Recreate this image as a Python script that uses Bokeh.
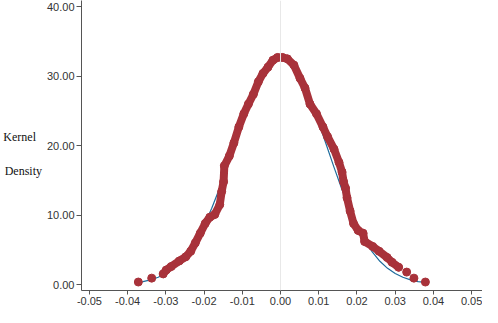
from bokeh.plotting import figure
from bokeh.models import FixedTicker, NumeralTickFormatter, Span, Range1d
from bokeh.embed import file_html
from bokeh.resources import INLINE

# Kernel density estimate (red markers)
kde_x = [-0.0307, -0.0299, -0.0286, -0.0265, -0.0248, -0.0235, -0.0223, -0.0210,
         -0.0197, -0.0185, -0.0172, -0.0159, -0.0154, -0.0149, -0.0147, -0.0134,
         -0.0122, -0.0109, -0.0096, -0.0084, -0.0071, -0.0058, -0.0046, -0.0033,
         -0.0020, -0.0008, 0.0005, 0.0018, 0.0035, 0.0051, 0.0064, 0.0077, 0.0094,
         0.0111, 0.0123, 0.0140, 0.0153, 0.0161, 0.0165, 0.0170, 0.0174, 0.0182,
         0.0191, 0.0203, 0.0216, 0.0220, 0.0241, 0.0258, 0.0279, 0.0292, 0.0309]
kde_y = [1.54, 2.1, 2.6, 3.4, 4.0, 4.8, 6.0, 7.4,
         8.8, 9.7, 10.1, 11.5, 13.4, 14.8, 17.1, 18.5,
         20.4, 22.7, 24.6, 26.0, 27.4, 29.2, 30.4, 31.3,
         32.3, 32.7, 32.7, 32.5, 31.6, 29.7, 28.3, 26.0, 24.6,
         22.7, 21.3, 19.5, 17.6, 16.2, 14.8, 13.9, 12.5, 10.6,
         8.8, 7.8, 7.4, 6.2, 5.5, 4.8, 3.9, 3.2, 2.5]
# isolated tail markers
tail_x = [-0.0372, -0.0337, 0.0330, 0.0349, 0.0379]
tail_y = [0.37, 0.93, 1.8, 0.93, 0.37]

# Normal reference density (blue line)
norm_x = [-0.0372, -0.036, -0.034, -0.032, -0.030, -0.028, -0.026, -0.024, -0.022,
          -0.020, -0.018, -0.016, -0.014, -0.012, -0.010, -0.008, -0.006, -0.004,
          -0.002, 0.0, 0.002, 0.004, 0.006, 0.008, 0.010, 0.012, 0.014, 0.016,
          0.018, 0.020, 0.022, 0.024, 0.026, 0.028, 0.030, 0.032, 0.034, 0.036, 0.0379]
norm_y = [0.33, 0.42, 0.67, 1.05, 1.59, 2.34, 3.36, 4.71, 6.42,
          8.51, 10.98, 13.80, 16.87, 20.09, 23.30, 26.29, 28.88, 30.89,
          32.17, 32.6, 32.17, 30.89, 28.88, 26.29, 23.30, 20.09, 16.87, 13.80,
          10.98, 8.51, 6.42, 4.71, 3.36, 2.34, 1.59, 1.05, 0.67, 0.42, 0.33]

x_ticks = [-0.05, -0.04, -0.03, -0.02, -0.01, 0.0, 0.01, 0.02, 0.03, 0.04, 0.05]
y_ticks = [0, 10, 20, 30, 40]
y_title = "\nKernel\u00a0\u00a0\n\nDensity"

RED = "#a8323a"
BLUE = "#1f6c9c"

p = figure(width=482, height=307, output_backend="svg", toolbar_location=None,
           x_range=Range1d(-0.05207, 0.05284), y_range=Range1d(-0.85, 40.9),
           min_border_left=76, min_border_right=0, min_border_top=0, min_border_bottom=0)
p.xgrid.visible = False
p.ygrid.visible = False
p.outline_line_color = None
p.background_fill_color = "white"
p.border_fill_color = "white"

p.add_layout(Span(location=0, dimension="height", line_color="#e8e8e8", line_width=1))

p.line(norm_x, norm_y, line_color=BLUE, line_width=1.2)
p.line(kde_x, kde_y, line_color=RED, line_width=8, line_join="round", line_cap="round")
p.scatter(kde_x, kde_y, size=8, fill_color=RED, line_color=RED)
p.scatter(tail_x, tail_y, size=8, fill_color=RED, line_color=RED)

for ax in (p.xaxis, p.yaxis):
    ax.axis_line_color = "#555555"
    ax.major_tick_line_color = "#555555"
    ax.minor_tick_line_color = None
    ax.major_tick_in = 0
    ax.major_label_text_font = "Liberation Sans"
    ax.major_label_text_font_size = "11px"
    ax.major_label_text_color = "#333333"
    ax.formatter = NumeralTickFormatter(format="0.00")

p.xaxis.ticker = FixedTicker(ticks=x_ticks)
p.yaxis.ticker = FixedTicker(ticks=y_ticks)
p.xaxis.major_tick_out = 4
p.xaxis.major_label_standoff = 2
p.yaxis.major_tick_out = 5
p.yaxis.major_label_standoff = 2

p.yaxis.axis_label = y_title
p.yaxis.axis_label_orientation = "horizontal"
p.yaxis.axis_label_text_font = "Liberation Serif"
p.yaxis.axis_label_text_font_style = "normal"
p.yaxis.axis_label_text_font_size = "12px"
p.yaxis.axis_label_text_color = "#111111"
p.yaxis.axis_label_standoff = 2

open("out.html", "w").write(file_html(p, INLINE))
